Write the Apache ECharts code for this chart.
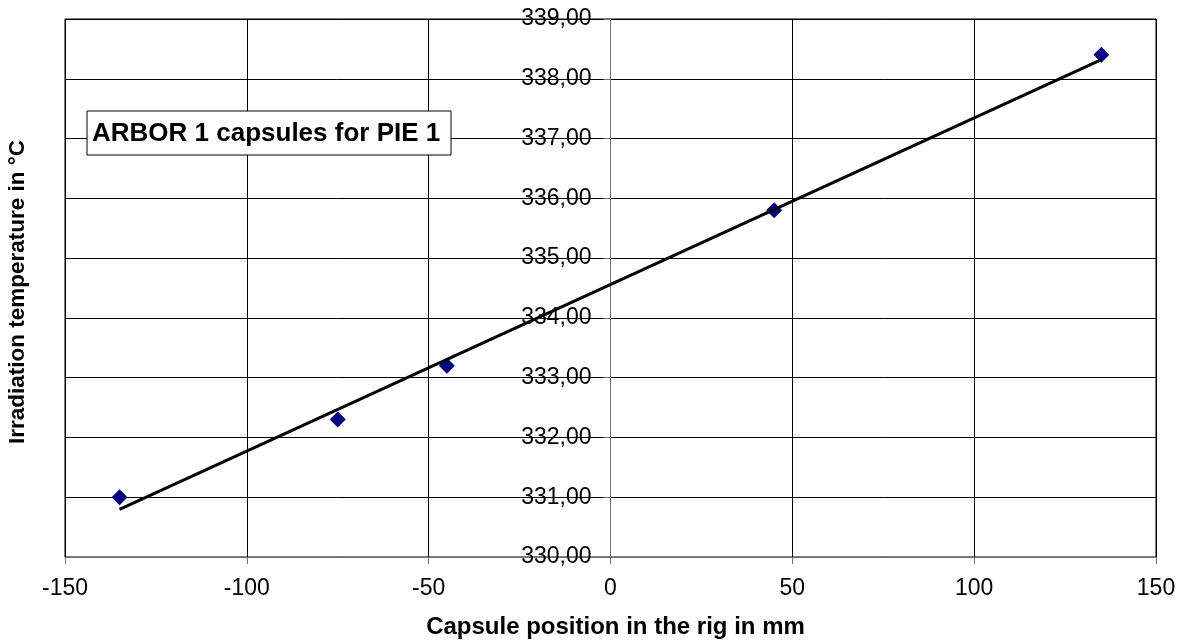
<!DOCTYPE html>
<html>
<head>
<meta charset="utf-8">
<script src="https://cdn.jsdelivr.net/npm/echarts@6/dist/echarts.min.js"></script>
<style>html,body{margin:0;padding:0;background:#fff}#c{width:1182px;height:642px}</style>
</head>
<body>
<div id="c"></div>
<script>
const positions = [-135, -75, -45, 45, 135];
const temperatures = [331.0, 332.3, 333.2, 335.8, 338.4];
const xTicks = [-150, -100, -50, 0, 50, 100, 150];
const yTicks = [330, 331, 332, 333, 334, 335, 336, 337, 338, 339];
const xTitle = 'Capsule position in the rig in mm';
const yTitle = 'Irradiation temperature in °C';
const boxText = 'ARBOR 1 capsules for PIE 1';

// least-squares linear trend line through the data
const n = positions.length;
const mx = positions.reduce((a, b) => a + b, 0) / n;
const my = temperatures.reduce((a, b) => a + b, 0) / n;
let sxy = 0, sxx = 0;
for (let i = 0; i < n; i++) { sxy += (positions[i] - mx) * (temperatures[i] - my); sxx += (positions[i] - mx) ** 2; }
const slope = sxy / sxx, icpt = my - slope * mx;
const xMin = Math.min(...positions), xMax = Math.max(...positions);
const trend = [[xMin, icpt + slope * xMin], [xMax, icpt + slope * xMax]];

const FONT = '"Liberation Sans", Arial, sans-serif';
const GL = 65, GR = 26, W = 1182;
const gridW = W - GL - GR;
const zeroOffset = -gridW * (0 - xTicks[0]) / (xTicks[xTicks.length - 1] - xTicks[0]);

const chart = echarts.init(document.getElementById('c'), null, { renderer: 'canvas' });
chart.setOption({
  animation: false,
  backgroundColor: '#fff',
  grid: { left: GL, right: GR, top: 19, bottom: 85, show: true, borderColor: '#000', borderWidth: 1,
    containLabel: false, outerBoundsMode: 'none' },
  xAxis: {
    type: 'value', min: xTicks[0], max: xTicks[xTicks.length - 1], interval: 50,
    name: xTitle, nameLocation: 'middle', nameGap: 58,
    nameTextStyle: { fontFamily: FONT, fontWeight: 'bold', fontSize: 24, color: '#000', padding: [0, 0, 0, 10] },
    axisLine: { show: true, onZero: false, lineStyle: { color: '#707070', width: 1 } },
    axisTick: { show: true, length: 7, lineStyle: { color: '#707070' } },
    axisLabel: { fontFamily: FONT, fontSize: 23, color: '#000', margin: 20 },
    splitLine: { show: true, lineStyle: { color: '#000', width: 1 } }
  },
  yAxis: {
    type: 'value', min: yTicks[0], max: yTicks[yTicks.length - 1], interval: 1,
    position: 'left', offset: zeroOffset,
    axisLine: { show: true, onZero: false, lineStyle: { color: '#707070', width: 1 } },
    axisTick: { show: true, length: 7, lineStyle: { color: '#707070' } },
    axisLabel: { fontFamily: FONT, fontSize: 23, color: '#000', margin: 19,
      formatter: v => v.toFixed(2).replace('.', ',') },
    splitLine: { show: true, lineStyle: { color: '#000', width: 1 } }
  },
  series: [
    { type: 'scatter', data: positions.map((x, i) => [x, temperatures[i]]), symbol: 'diamond', symbolSize: 16,
      itemStyle: { color: '#000080', opacity: 1 }, z: 3 },
    { type: 'line', data: trend, symbol: 'none', lineStyle: { color: '#000', width: 3 }, z: 4 }
  ],
  graphic: [
    { type: 'text', x: 18, y: 292, rotation: Math.PI / 2, z: 100,
      style: { text: yTitle, font: 'bold 22.5px ' + FONT, fill: '#000', align: 'center', verticalAlign: 'middle' } },
    { type: 'rect', shape: { x: 87, y: 111, width: 364, height: 44 }, z: 100,
      style: { fill: '#fff', stroke: '#000', lineWidth: 1 } },
    { type: 'text', x: 92, y: 134, z: 101,
      style: { text: boxText, font: 'bold 26px ' + FONT, fill: '#000', align: 'left', verticalAlign: 'middle' } }
  ]
});
</script>
</body>
</html>
